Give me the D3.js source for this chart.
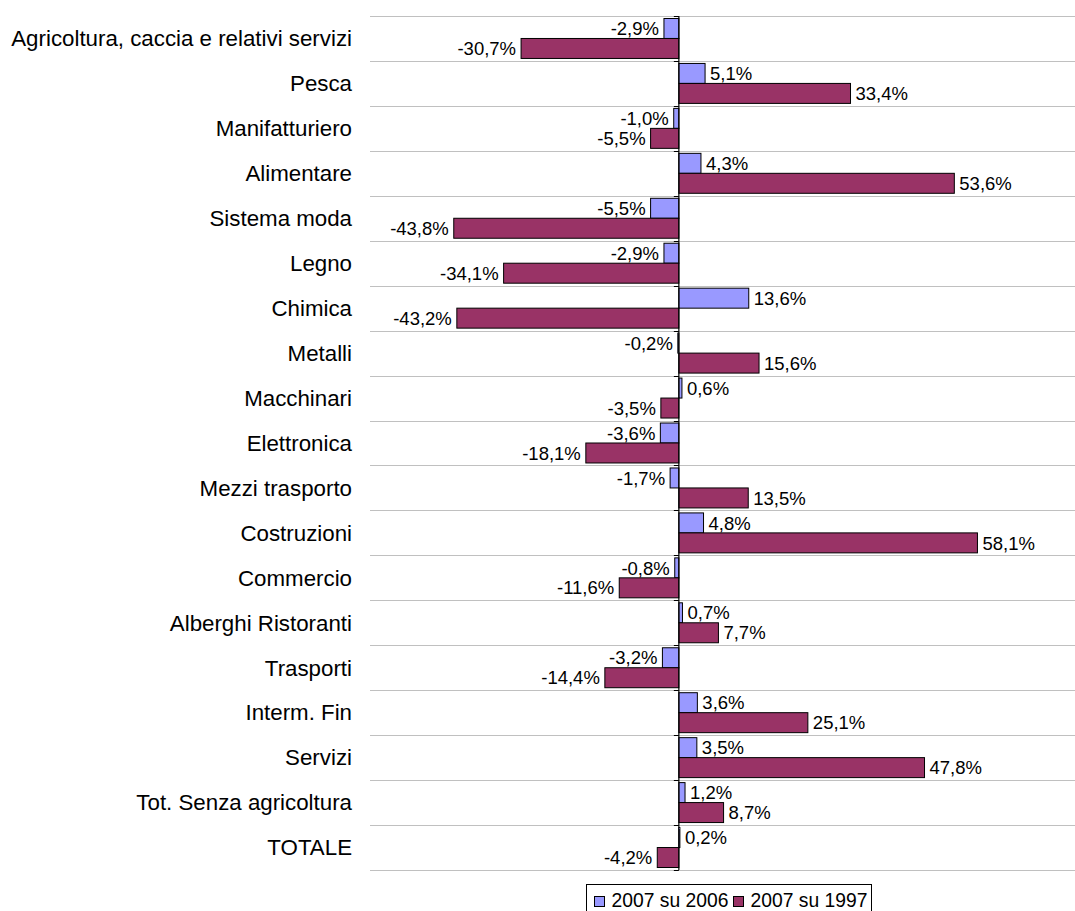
<!DOCTYPE html>
<html>
<head>
<meta charset="utf-8">
<script src="https://cdn.jsdelivr.net/npm/d3@7"></script>
<style>
html,body{margin:0;padding:0;background:#fff;}
svg{display:block;font-family:"Liberation Sans",Arial,sans-serif;}
</style>
</head>
<body>
<svg id="chart" width="1075" height="911"></svg>
<script>
const categories = [
  "Agricoltura, caccia e relativi servizi","Pesca","Manifatturiero","Alimentare",
  "Sistema moda","Legno","Chimica","Metalli","Macchinari","Elettronica",
  "Mezzi trasporto","Costruzioni","Commercio","Alberghi Ristoranti","Trasporti",
  "Interm. Fin","Servizi","Tot. Senza agricoltura","TOTALE"
];
const seriesNames = ["2007 su 2006","2007 su 1997"];
const values2006 = [-2.9,5.1,-1.0,4.3,-5.5,-2.9,13.6,-0.2,0.6,-3.6,-1.7,4.8,-0.8,0.7,-3.2,3.6,3.5,1.2,0.2];
const values1997 = [-30.7,33.4,-5.5,53.6,-43.8,-34.1,-43.2,15.6,-3.5,-18.1,13.5,58.1,-11.6,7.7,-14.4,25.1,47.8,8.7,-4.2];
const seriesColors = ["#9999FF","#993366"];
const xDomain = [-60, 80];

const svg = d3.select("#chart");
const x = d3.scaleLinear().domain(xDomain).range([370.5, 1090]);
const y = d3.scaleBand().domain(categories).range([16, 870]).padding(0);
const sub = d3.scaleBand().domain(seriesNames).range([0, y.bandwidth()]).paddingInner(0).paddingOuter(0.125);
const fmt = v => d3.format(".1f")(v).replace(".", ",").replace("\u2212", "-") + "%";

// gridlines at category boundaries
const bounds = categories.map(c => y(c)).concat([y.range()[1]]);
svg.append("g").selectAll("line").data(bounds).join("line")
  .attr("x1", 370).attr("x2", 1075)
  .attr("y1", d => Math.round(d) + 0.5).attr("y2", d => Math.round(d) + 0.5)
  .attr("stroke", "#c0c0c0").attr("stroke-width", 1);

// bars
const data = [];
categories.forEach((c, i) => {
  data.push({cat: c, s: seriesNames[0], v: values2006[i], color: seriesColors[0]});
  data.push({cat: c, s: seriesNames[1], v: values1997[i], color: seriesColors[1]});
});
const x0 = x(0);
svg.append("g").selectAll("rect").data(data).join("rect")
  .attr("x", d => Math.min(x(d.v), x0))
  .attr("y", d => y(d.cat) + sub(d.s))
  .attr("width", d => Math.abs(x(d.v) - x0))
  .attr("height", sub.bandwidth())
  .attr("fill", d => d.color)
  .attr("stroke", "#000").attr("stroke-width", 1);

// zero axis with ticks
const axG = svg.append("g");
axG.append("line").attr("x1", x0).attr("x2", x0).attr("y1", 16).attr("y2", 870)
  .attr("stroke", "#000").attr("stroke-width", 1.2);
axG.selectAll("line.tk").data(bounds).join("line").attr("class","tk")
  .attr("x1", x0 - 5).attr("x2", x0)
  .attr("y1", d => Math.round(d) + 0.5).attr("y2", d => Math.round(d) + 0.5)
  .attr("stroke", "#000").attr("stroke-width", 1);

// category labels
svg.append("g").selectAll("text").data(categories).join("text")
  .attr("x", 352).attr("y", d => y(d) + y.bandwidth() / 2)
  .attr("dy", "0.35em").attr("text-anchor", "end")
  .attr("font-size", "22.3px").attr("fill", "#000")
  .text(d => d);

// value labels
svg.append("g").selectAll("text").data(data).join("text")
  .attr("x", d => d.v >= 0 ? x(d.v) + 5 : x(d.v) - 5)
  .attr("y", d => y(d.cat) + sub(d.s) + sub.bandwidth() / 2)
  .attr("dy", "0.36em")
  .attr("text-anchor", d => d.v >= 0 ? "start" : "end")
  .attr("font-size", "18.5px").attr("fill", "#000")
  .text(d => fmt(d.v));

// legend
const lg = svg.append("g");
lg.append("rect").attr("x", 586.5).attr("y", 884.5).attr("width", 285).attr("height", 32)
  .attr("fill", "#fff").attr("stroke", "#000").attr("stroke-width", 1);
const legX = [594, 733];
seriesNames.forEach((s, i) => {
  lg.append("rect").attr("x", legX[i] + 0.5).attr("y", 896.5).attr("width", 10).attr("height", 10)
    .attr("fill", seriesColors[i]).attr("stroke", "#000").attr("stroke-width", 1);
  lg.append("text").attr("x", legX[i] + 17.5).attr("y", 907)
    .attr("font-size", "19.3px").attr("fill", "#000").text(s);
});
</script>
</body>
</html>
